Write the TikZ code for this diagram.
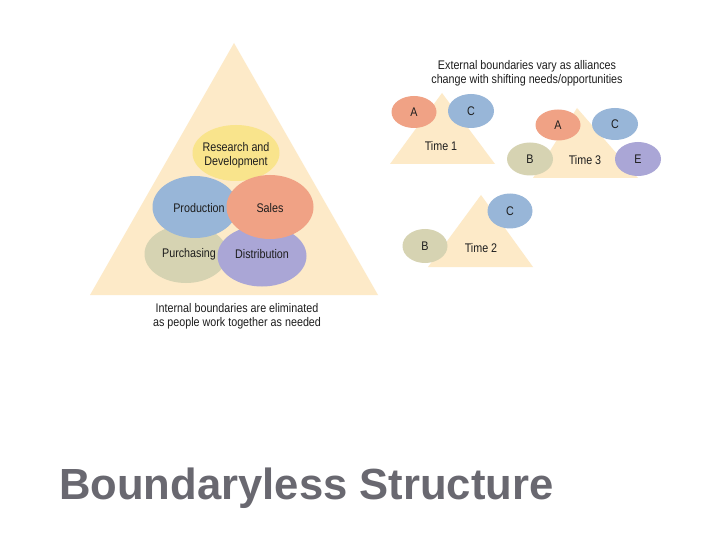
\documentclass[tikz,border=0pt]{standalone}
\usepackage{fontspec}
\setmainfont{Liberation Sans}
\newfontfamily\narrowfont[FakeStretch=0.86]{Liberation Sans}
\usetikzlibrary{shapes.geometric}
\definecolor{tri}{RGB}{253,234,200}
\definecolor{yel}{RGB}{249,228,140}
\definecolor{blu}{RGB}{152,182,216}
\definecolor{sal}{RGB}{240,162,133}
\definecolor{pur}{RGB}{214,211,178}
\definecolor{dis}{RGB}{170,166,214}
\definecolor{txt}{RGB}{30,30,30}
\definecolor{ttl}{RGB}{105,104,112}
\tikzset{
  blob/.style={ellipse, inner sep=0pt, font=\narrowfont\fontsize{12.5}{14}\selectfont, text=txt, align=center},
  lbl/.style={font=\narrowfont\fontsize{12.5}{14}\selectfont, text=txt, align=center, inner sep=0pt},
}
\begin{document}
\begin{tikzpicture}[x=1pt,y=-1pt]
\useasboundingbox (0,0) rectangle (720,540);
\fill[white] (0,0) rectangle (720,540);
% big triangle
\fill[tri] (234,43) -- (378,295) -- (90,295) -- cycle;
\node[blob, fill=yel, minimum width=87, minimum height=56] (rd) at (236,153) {};
\node[lbl] at (236,155) {Research and\\Development};
\node[blob, fill=pur, minimum width=83, minimum height=58] (pu) at (186,254) {};
\node[blob, fill=dis, minimum width=89, minimum height=61] (di) at (262,256) {};
\node[blob, fill=blu, minimum width=85, minimum height=62] (pr) at (195,207) {};
\node[blob, fill=sal, minimum width=87, minimum height=64] (sa) at (270,207) {};
\node[lbl] at (199,208) {Production};
\node[lbl] at (270,208) {Sales};
\node[lbl] at (189,254) {Purchasing};
\node[lbl] at (262,254) {Distribution};
\node[lbl] (cap1) at (237,316) {Internal boundaries are eliminated\\as people work together as needed};
% external
\node[lbl] (cap2) at (527,73) {External boundaries vary as alliances\\change with shifting needs/opportunities};
% Time 1
\fill[tri] (442,93) -- (495,164) -- (390,164) -- cycle;
\node[lbl] (t1) at (441,146) {Time 1};
\node[blob, fill=sal, minimum width=45, minimum height=32] (a1) at (414,112) {A};
\node[blob, fill=blu, minimum width=46, minimum height=34] (c1) at (471,111) {C};
% Time 3
\fill[tri] (577,108) -- (638,178) -- (533,178) -- cycle;
\node[lbl] (t3) at (585,160) {Time 3};
\node[blob, fill=sal, minimum width=45, minimum height=31] (a3) at (558,125) {A};
\node[blob, fill=blu, minimum width=46, minimum height=32] (c3) at (615,124) {C};
\node[blob, fill=pur, minimum width=46, minimum height=33] (b3) at (530,159) {B};
\node[blob, fill=dis, minimum width=46, minimum height=34] (e3) at (638,159) {E};
% Time 2
\fill[tri] (481,195) -- (533,267) -- (428,267) -- cycle;
\node[lbl] (t2) at (481,248) {Time 2};
\node[blob, fill=pur, minimum width=45, minimum height=34] (b2) at (425,246) {B};
\node[blob, fill=blu, minimum width=45, minimum height=35] (c2) at (510,211) {C};
% title
\node[font=\bfseries\fontsize{43.6}{50}\selectfont, text=ttl, anchor=base west, inner sep=0pt] (title) at (59,499) {Boundaryless Structure};
\end{tikzpicture}
\end{document}
